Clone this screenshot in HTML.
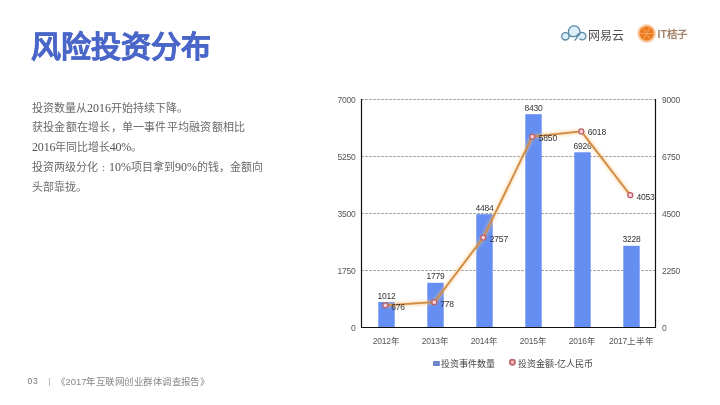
<!DOCTYPE html>
<html lang="zh-CN"><head><meta charset="utf-8">
<style>
html,body{margin:0;padding:0;background:#fff;}
body{width:720px;height:405px;position:relative;overflow:hidden;will-change:transform;font-family:"Liberation Sans",sans-serif;}
.title{position:absolute;left:31px;top:29px;font-size:30px;font-weight:bold;color:#4a66c8;-webkit-text-stroke:0.5px #4a66c8;line-height:36px;white-space:nowrap;}
.body{position:absolute;left:32px;top:98.6px;font-family:"Liberation Serif",serif;font-size:11px;line-height:19.8px;color:#6a6a6a;white-space:nowrap;}
.d{font-size:12px;color:#555;line-height:10px;}
.foot{position:absolute;top:374px;font-size:9px;color:#888;white-space:nowrap;line-height:14px;}
svg{position:absolute;left:0;top:0;}
</style></head>
<body>
<div class="title">风险投资分布</div>
<div class="body">投资数量从<span class="d">2016</span>开始持续下降。<br><span style="letter-spacing:0.22px">获投金额在增长，单一事件平均融资额相比</span><br><span style="letter-spacing:-0.15px"><span class="d">2016</span>年同比增长<span class="d">40%</span>。</span><br>投资两级分化<span style="display:inline-block;width:11px;text-align:center;">:</span><span class="d">10%</span>项目拿到<span class="d">90%</span>的钱，金额向<br>头部靠拢。</div>

<div class="foot" style="left:27.6px;top:373.9px;font-size:8.6px;letter-spacing:0.7px;color:#777;">03</div>
<div style="position:absolute;left:49px;top:378px;width:1px;height:7.5px;background:#bbb;"></div>
<div class="foot" style="left:56px;top:376px;font-size:10px;transform:scale(0.945);transform-origin:0 0;">《2017年互联网创业群体调查报告》</div>

<svg width="720" height="405" viewBox="0 0 720 405" font-family="Liberation Sans, sans-serif">
  <defs>
    <filter id="glow" x="-20%" y="-20%" width="140%" height="140%">
      <feGaussianBlur stdDeviation="1.6"/>
    </filter>
  </defs>
  <!-- logos -->
  <g fill="#dcf0fb">
    <circle cx="565.4" cy="36.3" r="3.7"/>
    <circle cx="574.2" cy="31.7" r="5.8"/>
    <circle cx="582.3" cy="36.2" r="3.7"/>
  </g>
  <g fill="none" stroke="#5b88a2" stroke-width="1.3" stroke-linecap="round" stroke-linejoin="round">
    <circle cx="565.4" cy="36.3" r="3.7"/>
    <path d="M578.8 34.9 A3.7 3.7 0 1 1 579.9 39.0"/>
    <path d="M570.47 36.14 A5.8 5.8 0 1 1 578.95 35.03"/>
    <path d="M570.47 36.14 Q574 37.3 576.5 35.8 L579.2 33.6 Q577.3 37.5 575 40.2"/>
  </g>
  <text x="587.8" y="39.8" font-size="12" fill="#505050">网易云</text>
  <circle cx="646.6" cy="33.5" r="8.7" fill="#fcdcbc" stroke="#f5b47a" stroke-width="0.9"/>
  <circle cx="646.6" cy="33.5" r="7.3" fill="#ec7b22"/>
  <g stroke="#f7a560" stroke-width="0.9">
    <line x1="639.4" y1="33.5" x2="653.8" y2="33.5"/>
    <line x1="643" y1="27.3" x2="650.2" y2="39.7"/>
    <line x1="643" y1="39.7" x2="650.2" y2="27.3"/>
  </g>
  <text x="657.6" y="38.3" font-size="10.5" font-weight="bold" fill="#a3846e">IT桔子</text>

  <!-- gridlines -->
  <g stroke="#999" stroke-width="1" stroke-dasharray="2.5 1.5">
    <line x1="361.25" y1="99.5" x2="655" y2="99.5"/>
    <line x1="361.25" y1="156.5" x2="655" y2="156.5"/>
    <line x1="361.25" y1="213.5" x2="655" y2="213.5"/>
    <line x1="361.25" y1="270.5" x2="655" y2="270.5"/>
  </g>
  <!-- bars -->
  <g fill="#648ef2">
    <rect x="378.3" y="302" width="16.4" height="25.5"/>
    <rect x="427.3" y="282.8" width="16.4" height="44.7"/>
    <rect x="476.3" y="214.2" width="16.4" height="113.3"/>
    <rect x="525.3" y="114.2" width="16.4" height="213.3"/>
    <rect x="574.3" y="152.3" width="16.4" height="175.2"/>
    <rect x="623.3" y="245.8" width="16.4" height="81.7"/>
  </g>
  <!-- axes -->
  <g stroke="#111" stroke-width="1.2">
    <line x1="361.5" y1="99" x2="361.5" y2="328"/>
    <line x1="655.5" y1="99" x2="655.5" y2="328"/>
    <line x1="361" y1="327.5" x2="656" y2="327.5"/>
  </g>
  <!-- axis labels -->
  <g font-size="8.5" letter-spacing="-0.2" fill="#555" text-anchor="end">
    <text x="355.5" y="102.9">7000</text>
    <text x="355.5" y="159.9">5250</text>
    <text x="355.5" y="216.9">3500</text>
    <text x="355.5" y="273.9">1750</text>
    <text x="355.5" y="331.1">0</text>
  </g>
  <g font-size="8.5" letter-spacing="-0.2" fill="#555">
    <text x="662" y="102.9">9000</text>
    <text x="662" y="159.9">6750</text>
    <text x="662" y="216.9">4500</text>
    <text x="662" y="273.9">2250</text>
    <text x="662" y="331.1">0</text>
  </g>
  <g font-size="8.5" letter-spacing="-0.2" fill="#555" text-anchor="middle">
    <text x="386.2" y="343.8">2012年</text>
    <text x="435.2" y="343.8">2013年</text>
    <text x="484.2" y="343.8">2014年</text>
    <text x="533.2" y="343.8">2015年</text>
    <text x="582.2" y="343.8">2016年</text>
    <text x="631.2" y="343.8">2017上半年</text>
  </g>
  <!-- bar value labels -->
  <g font-size="8.5" letter-spacing="-0.2" fill="#333" text-anchor="middle">
    <text x="386.5" y="298.7">1012</text>
    <text x="435.5" y="279.4">1779</text>
    <text x="484.5" y="210.8">4484</text>
    <text x="533.5" y="110.8">8430</text>
    <text x="582.5" y="148.9">6926</text>
    <text x="631.5" y="242.4">3228</text>
  </g>
  <!-- line -->
  <polyline points="385.3,305.3 434.3,302.2 483.3,237.6 532.3,136.6 581.3,131.4 630.3,195.2" fill="none" stroke="#f9bf72" stroke-width="4" opacity="0.55" filter="url(#glow)"/>
  <polyline points="385.3,305.3 434.3,302.2 483.3,237.6 532.3,136.6 581.3,131.4 630.3,195.2" fill="none" stroke="#d08a44" stroke-width="1.8" stroke-linejoin="round"/>
  <g fill="#fbd0d6" stroke="#b8606a" stroke-width="1.3">
    <circle cx="385.3" cy="305.3" r="2.5"/>
    <circle cx="434.3" cy="302.2" r="2.5"/>
    <circle cx="483.3" cy="237.6" r="2.5"/>
    <circle cx="532.3" cy="136.6" r="2.5"/>
    <circle cx="581.3" cy="131.4" r="2.5"/>
    <circle cx="630.3" cy="195.2" r="2.5"/>
  </g>
  <g font-size="8.5" letter-spacing="-0.2" fill="#333">
    <text x="391.3" y="310">676</text>
    <text x="440.3" y="306.9">778</text>
    <text x="489.8" y="242">2757</text>
    <text x="538.8" y="141">5850</text>
    <text x="587.8" y="135">6018</text>
    <text x="636.5" y="199.7">4053</text>
  </g>
  <!-- legend -->
  <rect x="433" y="361" width="6.8" height="5" fill="#6d86c8"/>
  <text x="440.5" y="366.8" font-size="9" fill="#444">投资事件数量</text>
  <circle cx="512.4" cy="362.2" r="2.6" fill="#f8c0c6" stroke="#bd6468" stroke-width="1.7"/>
  <text x="518.2" y="366.8" font-size="9" fill="#444">投资金额-亿人民币</text>
</svg>
</body></html>
